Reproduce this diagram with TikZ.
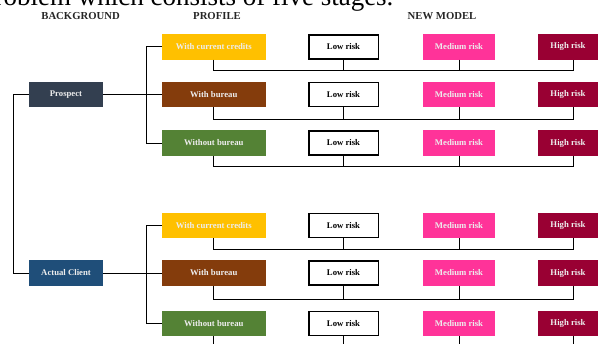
\documentclass[tikz,border=0pt]{standalone}
\usepackage{fontspec}
\setmainfont{Liberation Serif}
\usetikzlibrary{positioning}
\definecolor{ink}{HTML}{000000}
\definecolor{prosp}{HTML}{333F50}
\definecolor{client}{HTML}{1F4E79}
\definecolor{credit}{HTML}{FFC000}
\definecolor{bureau}{HTML}{843C0C}
\definecolor{nobureau}{HTML}{548235}
\definecolor{medrisk}{HTML}{FF3399}
\definecolor{highrisk}{HTML}{990033}

\begin{document}
\begin{tikzpicture}[
  x=1pt, y=-1pt,
  box/.style={fill=#1, text=white!93!black, inner sep=0pt, minimum height=25.5pt,
              font=\fontsize{8.7}{9}\selectfont\bfseries},
  bg/.style={box=#1, minimum width=74pt},
  prof/.style={box=#1, minimum width=103.5pt},
  low/.style={box=white, draw=ink, line width=1.5pt, text=ink,
              minimum width=69.5pt, minimum height=24pt},
  med/.style={box=medrisk, minimum width=72pt},
  high/.style={box=highrisk, minimum width=60pt},
  hdr/.style={font=\fontsize{10.7}{12}\selectfont\bfseries, text=ink!85},
  ln/.style={draw=ink, line width=1pt},
]
\useasboundingbox (0,0) rectangle (602,343);
\clip (0,0) rectangle (602,343);

%% ---------------- running text (cut off) and column heads ----------------
\node[anchor=base east, font=\fontsize{27}{30}\selectfont, text=ink] (lead) at (397,5.5)
  {problem which consists of five stages.};
\node[hdr] (hbg) at (80.6,16) {BACKGROUND};
\node[hdr] (hpr) at (217,16) {PROFILE};
\node[hdr] (hnm) at (442,16) {NEW MODEL};

%% ---------------- background ----------------
\node[bg=prosp]  (pr) at (66,94.5) {Prospect};
\node[bg=client] (ac) at (66,273)  {Actual Client};
\draw[ln] (pr.west) -- ++(-15,0) |- (ac.west);

%% ---------------- prospect : rows 1-3 ----------------
\node[prof=credit]   (c1) at (213.75,46.75) {With current credits};
\node[low]           (l1) at (343.5,46.75)  {Low risk};
\node[med]           (m1) at (459,46.75)    {Medium risk};
\node[high]          (h1) at (568,46.75)    {High risk};

\node[prof=bureau]   (c2) at (213.75,94.5)  {With bureau};
\node[low]           (l2) at (343.5,94.5)   {Low risk};
\node[med]           (m2) at (459,94.5)     {Medium risk};
\node[high]          (h2) at (568,94.5)     {High risk};

\node[prof=nobureau] (c3) at (213.75,143)   {Without bureau};
\node[low]           (l3) at (343.5,143)    {Low risk};
\node[med]           (m3) at (459,143)      {Medium risk};
\node[high]          (h3) at (568,143)      {High risk};

\draw[ln] (pr.east) -- (c2.west);
\draw[ln] (c1.west) -- ++(-15,0) |- (c3.west);

%% ---------------- actual client : rows 4-6 ----------------
\node[prof=credit]   (c4) at (213.75,225.5) {With current credits};
\node[low]           (l4) at (343.5,225.5)  {Low risk};
\node[med]           (m4) at (459,225.5)    {Medium risk};
\node[high]          (h4) at (568,225.5)    {High risk};

\node[prof=bureau]   (c5) at (213.75,273)   {With bureau};
\node[low]           (l5) at (343.5,273)    {Low risk};
\node[med]           (m5) at (459,273)      {Medium risk};
\node[high]          (h5) at (568,273)      {High risk};

\node[prof=nobureau] (c6) at (213.75,323.5) {Without bureau};
\node[low]           (l6) at (343.5,323.5)  {Low risk};
\node[med]           (m6) at (459,323.5)    {Medium risk};
\node[high]          (h6) at (568,323.5)    {High risk};

\draw[ln] (ac.east) -- (c5.west);
\draw[ln] (c4.west) -- ++(-15,0) |- (c6.west);

%% ---------------- profile -> new model brackets ----------------
\coordinate (j1) at (213.75,70);
\coordinate (j2) at (213.75,119.5);
\coordinate (j3) at (213.75,166);
\coordinate (j4) at (213.75,249);
\coordinate (j5) at (213.75,299);
\coordinate (j6) at (213.75,347);

\draw[ln] (c1.south) -- (j1) -| ([xshift=5pt]h1.south);
\draw[ln] (l1.south) -- (l1.south |- j1);
\draw[ln] (m1.south) -- (m1.south |- j1);

\draw[ln] (c2.south) -- (j2) -| ([xshift=5pt]h2.south);
\draw[ln] (l2.south) -- (l2.south |- j2);
\draw[ln] (m2.south) -- (m2.south |- j2);

\draw[ln] (c3.south) -- (j3) -| ([xshift=5pt]h3.south);
\draw[ln] (l3.south) -- (l3.south |- j3);
\draw[ln] (m3.south) -- (m3.south |- j3);

\draw[ln] (c4.south) -- (j4) -| ([xshift=5pt]h4.south);
\draw[ln] (l4.south) -- (l4.south |- j4);
\draw[ln] (m4.south) -- (m4.south |- j4);

\draw[ln] (c5.south) -- (j5) -| ([xshift=5pt]h5.south);
\draw[ln] (l5.south) -- (l5.south |- j5);
\draw[ln] (m5.south) -- (m5.south |- j5);

\draw[ln] (c6.south) -- (j6) -| ([xshift=5pt]h6.south);
\draw[ln] (l6.south) -- (l6.south |- j6);
\draw[ln] (m6.south) -- (m6.south |- j6);

\end{tikzpicture}
\end{document}
